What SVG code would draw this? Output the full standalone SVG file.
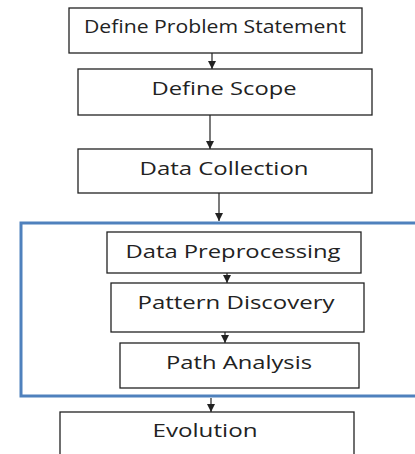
<svg xmlns="http://www.w3.org/2000/svg" width="415" height="454" viewBox="0 0 415 454">
<style>
.box{fill:#fff;stroke:#222;stroke-width:1.3}
.t{font-family:"Open Sans","Liberation Sans",sans-serif;font-size:18.5px;fill:#222;text-anchor:middle}
.c{stroke:#222;stroke-width:1.2;fill:none;marker-end:url(#ah)}
</style>
<defs>
<marker id="ah" viewBox="0 0 10 10" refX="10" refY="5" markerWidth="8" markerHeight="8" markerUnits="userSpaceOnUse" orient="auto">
<path d="M0,0 L10,5 L0,10 z" fill="#222"/>
</marker>
</defs>
<rect width="415" height="454" fill="#fff"/>
<g id="group-frame">
<rect x="21" y="223" width="400" height="173" fill="none" stroke="#4F81BD" stroke-width="3"/>
</g>
<g id="n1"><rect class="box" x="69" y="8" width="293" height="45"/><text class="t" x="215" y="32.5" textLength="262" lengthAdjust="spacingAndGlyphs">Define Problem Statement</text></g>
<g id="n2"><rect class="box" x="78" y="69" width="294" height="46"/><text class="t" x="224" y="94.5" textLength="145" lengthAdjust="spacingAndGlyphs">Define Scope</text></g>
<g id="n3"><rect class="box" x="78" y="149" width="294" height="44"/><text class="t" x="224" y="174.5" textLength="169" lengthAdjust="spacingAndGlyphs">Data Collection</text></g>
<g id="n4"><rect class="box" x="107" y="232" width="254" height="41"/><text class="t" x="233" y="257.5" textLength="215" lengthAdjust="spacingAndGlyphs">Data Preprocessing</text></g>
<g id="n5"><rect class="box" x="111" y="283" width="253" height="49"/><text class="t" x="236" y="308.5" textLength="197" lengthAdjust="spacingAndGlyphs">Pattern Discovery</text></g>
<g id="n6"><rect class="box" x="120" y="343" width="239" height="45"/><text class="t" x="239" y="368.5" textLength="146" lengthAdjust="spacingAndGlyphs">Path Analysis</text></g>
<g id="n7"><rect class="box" x="60" y="412" width="294" height="50"/><text class="t" x="205" y="436.5" textLength="105" lengthAdjust="spacingAndGlyphs">Evolution</text></g>
<g id="connectors">
<line class="c" x1="212" y1="53" x2="212" y2="69"/>
<line class="c" x1="210" y1="115" x2="210" y2="149"/>
<line class="c" x1="219" y1="193" x2="219" y2="221"/>
<line class="c" x1="227" y1="273" x2="227" y2="283"/>
<line class="c" x1="225" y1="332" x2="225" y2="343"/>
<line class="c" x1="211" y1="398" x2="211" y2="412"/>
</g>
</svg>
